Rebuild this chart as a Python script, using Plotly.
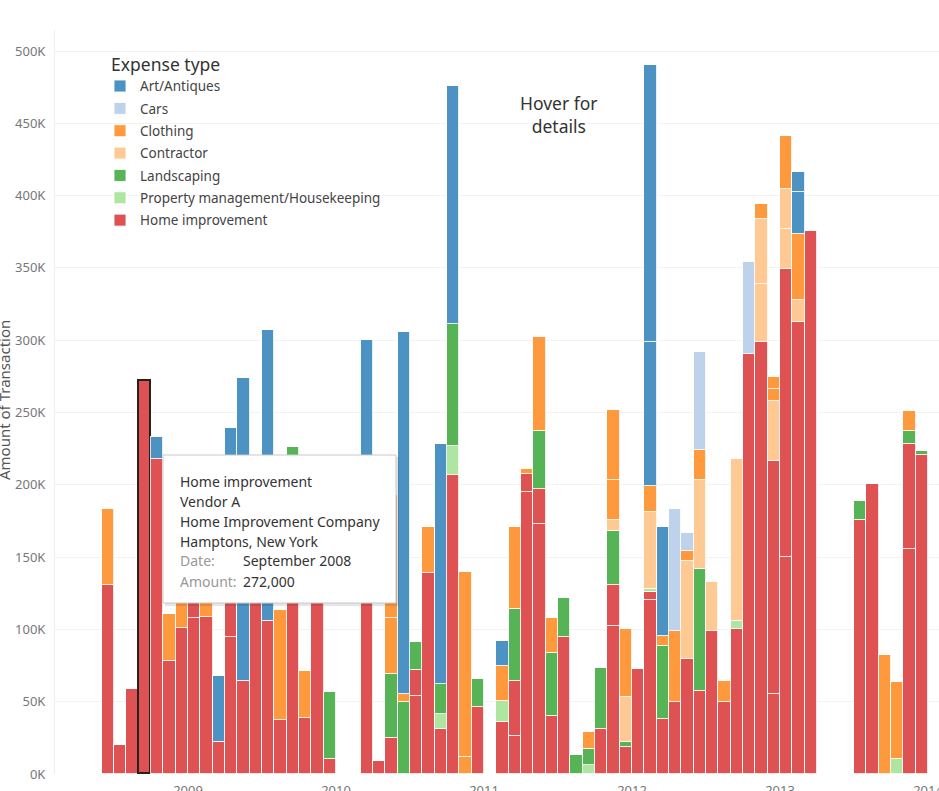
import pandas as pd
import plotly.graph_objects as go

# ---------------- data (values in thousands) ----------------
MONTHS = [d.strftime("%Y-%m") for d in pd.date_range("2008-06-01", "2013-12-01", freq="MS")]

#            2008: Jun..Dec | 2009..2013: Jan..Dec
HOME_1 = [131, 20, 59, 272, 218, 78, 101,
          108, 108.5, 22, 94.5, 64, 195, 106, 37.5, 200, 39, 170, 10.5,
          0, 0, 130, 9, 25, 0, 54, 139, 31, 207, 0, 46,
          0, 36, 26.5, 195, 173, 40, 94.5, 0, 0, 31, 102.5, 18.5,
          72.5, 120, 38, 49.5, 79.5, 57.5, 99, 49.5, 100, 290.5, 298.5, 55,
          150, 312.5, 375.5, 0, 0, 0, 176, 200.5, 0, 0, 155.5, 220.5]
HOME_2 = [0, 0, 0, 0, 0, 0, 0,
          62, 0, 0, 85.5, 0, 0, 0, 0, 0, 0, 0, 0,
          0, 0, 0, 0, 0, 0, 18, 0, 0, 0, 0, 0,
          0, 0, 38, 12.5, 24, 0, 0, 0, 0, 0, 28.5, 0,
          0, 6, 0, 0, 0, 0, 0, 0, 0, 0, 0, 161.5,
          199, 0, 0, 0, 0, 0, 0, 0, 0, 0, 72.5, 0]
PROPERTY = [0, 0, 0, 0, 0, 0, 0,
            0, 0, 0, 0, 0, 0, 0, 0, 0, 0, 0, 0,
            0, 0, 0, 0, 0, 0, 0, 0, 10.5, 20, 0, 0,
            0, 14.5, 0, 0, 0, 0, 0, 0, 6, 0, 0, 0,
            0, 2, 0, 0, 0, 0, 0, 0, 6, 0, 0, 0,
            0, 0, 0, 0, 0, 0, 0, 0, 0, 10.5, 0, 0]
LANDSCAPING = [0, 0, 0, 0, 0, 0, 0,
               0, 0, 0, 0, 0, 0, 0, 0, 26, 0, 0, 46,
               0, 0, 0, 0, 44, 50, 19, 0, 21, 84, 0, 20,
               0, 0, 49.5, 0, 40, 44, 27.5, 13, 11, 42, 37, 3.5,
               0, 0, 50.5, 0, 0, 84.5, 0, 0, 0, 0, 0, 0,
               0, 0, 0, 0, 0, 0, 13, 0, 0, 0, 9.5, 3]
CONTRACTOR_1 = [0, 0, 0, 0, 0, 0, 0,
                0, 0, 0, 0, 0, 0, 0, 0, 0, 0, 0, 0,
                0, 0, 0, 0, 0, 0, 0, 0, 0, 0, 0, 0,
                0, 0, 0, 0, 0, 0, 0, 0, 0, 0, 8, 31,
                0, 53, 0, 0, 68, 61, 33.5, 0, 112, 0, 40.5, 41.5,
                28, 15, 0, 0, 0, 0, 0, 0, 0, 0, 0, 0]
CONTRACTOR_2 = [0, 0, 0, 0, 0, 0, 0,
                0, 0, 0, 0, 0, 0, 0, 0, 0, 0, 0, 0,
                0, 0, 0, 0, 0, 0, 0, 0, 0, 0, 0, 0,
                0, 0, 0, 0, 0, 0, 0, 0, 0, 0, 0, 0,
                0, 0, 0, 0, 0, 0, 0, 0, 0, 0, 45, 0,
                27.5, 0, 0, 0, 0, 0, 0, 0, 0, 0, 0, 0]
CLOTHING_1 = [52, 0, 0, 0, 0, 32.5, 49,
              0, 51.5, 0, 0, 0, 0, 0, 76, 0, 32.5, 0, 0,
              0, 0, 0, 0, 39, 5, 0, 32, 0, 0, 11.5, 0,
              0, 24, 56.5, 3.5, 65, 24, 0, 0, 12, 0, 27, 47,
              0, 18, 7, 49.5, 7, 21, 0, 15, 0, 0, 10, 8,
              36.5, 46, 0, 0, 0, 0, 0, 0, 82, 53, 13.5, 0]
CLOTHING_2 = [0, 0, 0, 0, 0, 0, 0,
              0, 0, 0, 0, 0, 0, 0, 0, 0, 0, 0, 0,
              0, 0, 0, 0, 85, 0, 0, 0, 0, 0, 128.5, 0,
              0, 0, 0, 0, 0, 0, 0, 0, 0, 0, 48.5, 0,
              0, 0, 0, 0, 0, 0, 0, 0, 0, 0, 0, 8.5,
              0, 0, 0, 0, 0, 0, 0, 0, 0, 0, 0, 0]
CARS = [0, 0, 0, 0, 0, 0, 0,
        0, 0, 0, 0, 0, 0, 0, 0, 0, 0, 0, 0,
        0, 0, 0, 0, 0, 0, 0, 0, 0, 0, 0, 0,
        0, 0, 0, 0, 0, 0, 0, 0, 0, 0, 0, 0,
        0, 0, 0, 84, 12.5, 68, 0, 0, 0, 63.5, 0, 0,
        0, 0, 0, 0, 0, 0, 0, 0, 0, 0, 0, 0]
ART_1 = [0, 0, 0, 0, 15, 0, 0,
         0, 0, 46, 59, 210, 0, 201, 0, 0, 0, 0, 0,
         0, 0, 170, 0, 0, 251, 0, 0, 165.5, 165, 0, 0,
         0, 17.5, 0, 0, 0, 0, 0, 0, 0, 0, 0, 0,
         0, 99.5, 75, 0, 0, 0, 0, 0, 0, 0, 0, 0,
         0, 29, 0, 0, 0, 0, 0, 0, 0, 0, 0, 0]
ART_2 = [0, 0, 0, 0, 0, 0, 0,
         0, 0, 0, 0, 0, 0, 0, 0, 0, 0, 0, 0,
         0, 0, 0, 0, 0, 0, 0, 0, 0, 0, 0, 0,
         0, 0, 0, 0, 0, 0, 0, 0, 0, 0, 0, 0,
         0, 191.5, 0, 0, 0, 0, 0, 0, 0, 0, 0, 0,
         0, 14, 0, 0, 0, 0, 0, 0, 0, 0, 0, 0]

# legend order (top -> bottom)
CATEGORIES = ["Art/Antiques", "Cars", "Clothing", "Contractor", "Landscaping",
              "Property management/Housekeeping", "Home improvement"]
COLORS = {"Art/Antiques": "#4C92C3", "Cars": "#BED2EC", "Clothing": "#FF993E",
          "Contractor": "#FFC993", "Landscaping": "#56B356",
          "Property management/Housekeeping": "#ADE5A1", "Home improvement": "#DE5253"}
YEAR_TICKS = [2009, 2010, 2011, 2012, 2013, 2014]
Y_TICKS = [0, 50, 100, 150, 200, 250, 300, 350, 400, 450, 500]
HIGHLIGHT_MONTH = "2008-09"

# stacking order bottom -> top
STACK = [("Home improvement", HOME_1, True), ("Home improvement", HOME_2, False),
         ("Property management/Housekeeping", PROPERTY, True),
         ("Landscaping", LANDSCAPING, True),
         ("Contractor", CONTRACTOR_1, True), ("Contractor", CONTRACTOR_2, False),
         ("Clothing", CLOTHING_1, True), ("Clothing", CLOTHING_2, False),
         ("Cars", CARS, True),
         ("Art/Antiques", ART_1, True), ("Art/Antiques", ART_2, False)]

# ---------------- geometry helpers ----------------
W, H = 939, 791
ML, MR, MT, MB = 55, 0, 30, 17
PW, PH = W - ML - MR, H - MT - MB
X0 = 2009 + (ML - 188) / 148.0
X1 = X0 + PW / 148.0
Y_MAX = PH / 1.446


def px(xp):
    return (xp - ML) / PW


def py(yp):
    return (H - MB - yp) / PH


def month_x(m):
    y, mo = m.split("-")
    return int(y) + (int(mo) - 1) / 12 + 1 / 24


xs = [month_x(m) for m in MONTHS]

FONT = "Noto Sans, Open Sans, sans-serif"

fig = go.Figure()
for cat, vals, show in STACK:
    yvals = [v if v else None for v in vals]
    line_colors = ["rgba(255,255,255,0.85)"] * len(MONTHS)
    line_widths = [1] * len(MONTHS)
    if show and cat == "Home improvement":
        i = MONTHS.index(HIGHLIGHT_MONTH)
        line_colors[i] = "#222222"
        line_widths[i] = 1.6
    fig.add_trace(go.Bar(
        x=xs, y=yvals, width=1 / 12, name=cat, legendgroup=cat, showlegend=show,
        legendrank=CATEGORIES.index(cat) + 1,
        marker=dict(color=COLORS[cat], line=dict(color=line_colors, width=line_widths)),
        customdata=MONTHS,
        hovertemplate=cat + "<br>%{customdata}<br>Amount: %{y:,.1f}K<extra></extra>",
    ))

fig.update_layout(
    width=W, height=H, barmode="stack",
    margin=dict(l=ML, r=MR, t=MT, b=MB, autoexpand=False),
    paper_bgcolor="white", plot_bgcolor="white",
    font=dict(family=FONT, color="#333333"),
    xaxis=dict(range=[X0, X1], tickvals=YEAR_TICKS, ticktext=[str(y) for y in YEAR_TICKS],
               showgrid=False, zeroline=False, showline=False, ticks="", automargin=False,
               ticklabeloverflow="allow",
               tickfont=dict(size=13, color="#777777"), ticklabelstandoff=7),
    yaxis=dict(range=[0, Y_MAX], tickvals=Y_TICKS, ticktext=[f"{v}K" for v in Y_TICKS],
               showgrid=True, gridcolor="#f2f2f2", gridwidth=1, zeroline=False,
               showline=True, linecolor="#eeeeee", ticks="", automargin=False,
               tickfont=dict(size=13, color="#777777"), ticklabelstandoff=6),
    legend=dict(x=px(100), y=py(48), xanchor="left", yanchor="top",
                traceorder="grouped", tracegroupgap=1.8,
                bgcolor="rgba(0,0,0,0)", font=dict(size=13.5, color="#444444"),
                title=dict(text="\u00a0\u00a0Expense type", font=dict(size=17.5, color="#333333"))),
    bargap=0,
)

# cover part of the top gridline (as in reference)
fig.add_shape(type="rect", xref="paper", yref="paper", x0=px(710), x1=1.0,
              y0=py(60), y1=py(40), fillcolor="white", line=dict(width=0), layer="between")

# axis title (partly cut off at the left edge)
fig.add_annotation(text="Amount of Transaction", xref="paper", yref="paper",
                   x=px(4), y=py(400), xanchor="center", yanchor="middle",
                   textangle=-90, showarrow=False, font=dict(size=15, color="#555555"))

# Hover for details
fig.add_annotation(text="Hover for<br>details", xref="paper", yref="paper",
                   x=px(559), y=py(114), xanchor="center", yanchor="middle",
                   showarrow=False, font=dict(size=17.5, color="#333333"))

# tooltip box
fig.add_shape(type="rect", xref="paper", yref="paper", x0=px(165), x1=px(399),
              y0=py(606), y1=py(457), fillcolor="rgba(0,0,0,0.10)", line=dict(width=0), layer="above")
fig.add_shape(type="rect", xref="paper", yref="paper", x0=px(163), x1=px(396),
              y0=py(603), y1=py(455), fillcolor="white", line=dict(color="#c9c9c9", width=1), layer="above")
TIP_LINES = [("Home improvement", 481), ("Vendor A", 501), ("Home Improvement Company", 521),
             ("Hamptons, New York", 541)]
for t, yy in TIP_LINES:
    fig.add_annotation(text=t, xref="paper", yref="paper", x=px(178), y=py(yy),
                       xanchor="left", yanchor="middle", showarrow=False,
                       font=dict(size=14, color="#333333"))
for lab, val, yy in [("Date:", "September 2008", 561), ("Amount:", "272,000", 581)]:
    fig.add_annotation(text=lab, xref="paper", yref="paper", x=px(178), y=py(yy),
                       xanchor="left", yanchor="middle", showarrow=False,
                       font=dict(size=14, color="#999999"))
    fig.add_annotation(text=val, xref="paper", yref="paper", x=px(241), y=py(yy),
                       xanchor="left", yanchor="middle", showarrow=False,
                       font=dict(size=14, color="#333333"))

fig.write_html("out.html")
